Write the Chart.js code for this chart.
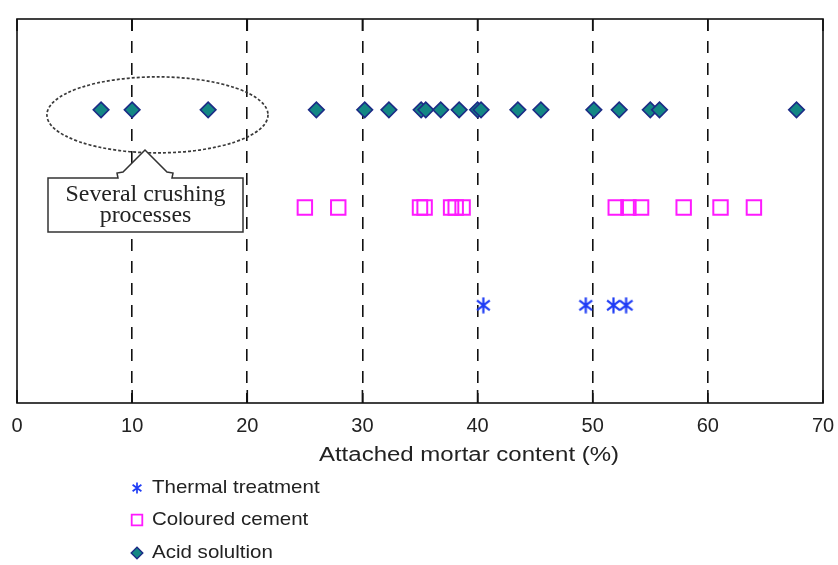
<!DOCTYPE html>
<html>
<head>
<meta charset="utf-8">
<script src="https://cdn.jsdelivr.net/npm/chart.js@4/dist/chart.umd.min.js"></script>
<style>
  html, body { margin: 0; padding: 0; background: #fff; }
  #wrap { width: 838px; height: 565px; position: relative; }
</style>
</head>
<body>
<div id="wrap"><canvas id="c"></canvas></div>
<script>
// Attached mortar content measured after each removal treatment (%)
const xTicks = [0, 10, 20, 30, 40, 50, 60, 70];
const seriesNames = ['Thermal treatment', 'Coloured cement', 'Acid solultion'];
const thermal = [40.5, 49.4, 51.8, 52.9];
const coloured = [25.0, 27.9, 35.0, 35.4, 37.7, 38.1, 38.7, 52.0, 53.1, 54.2, 57.9, 61.1, 64.0];
const acid = [7.3, 10.0, 16.6, 26.0, 30.2, 32.3, 35.1, 35.5, 36.8, 38.4, 40.0, 40.3, 43.5, 45.5, 50.1, 52.3, 55.0, 55.8, 67.7];
const rowLevels = [1, 2, 3];           // one horizontal row per treatment
const xTitle = 'Attached mortar content (%)';
const noteLines = ['Several crushing', 'processes'];

const SANS = "'Liberation Sans', Arial, sans-serif";
const SERIF = "'Liberation Serif', 'Times New Roman', serif";

// asterisk marker (vertical stroke plus a cross)
function asterisk(size, color, lw) {
  const c = document.createElement('canvas');
  c.width = size; c.height = size;
  const g = c.getContext('2d');
  g.strokeStyle = color; g.lineWidth = lw;
  const m = size / 2, r = size / 2 - 0.5;
  g.beginPath();
  g.moveTo(m, m - r); g.lineTo(m, m + r);
  const dx = r * 0.8, dy = r * 0.6;
  g.moveTo(m - dx, m - dy); g.lineTo(m + dx, m + dy);
  g.moveTo(m - dx, m + dy); g.lineTo(m + dx, m - dy);
  g.stroke();
  return c;
}

const pointStyles = [
  { pointStyle: asterisk(17, '#1f3cf5', 2.2), pointRadius: 8, borderColor: '#1f3cf5', backgroundColor: '#1f3cf5', borderWidth: 1 },
  { pointStyle: 'rect', pointRadius: 10.2, borderColor: '#ff1aff', backgroundColor: 'rgba(0,0,0,0)', borderWidth: 2 },
  { pointStyle: 'rectRot', pointRadius: 7.8, borderColor: '#1c2c86', backgroundColor: '#138784', borderWidth: 1.6 }
];
const legendStyles = [
  { pointStyle: asterisk(12, '#1f3cf5', 1.7), radius: 6 },
  { pointStyle: 'rect', radius: 7.5, borderColor: '#ff1aff', backgroundColor: 'rgba(0,0,0,0)', borderWidth: 1.8 },
  { pointStyle: 'rectRot', radius: 5.8, borderColor: '#1c2c86', backgroundColor: '#138784', borderWidth: 1.4 }
];

const seriesData = [thermal, coloured, acid];
const datasets = seriesData.map((vals, i) => Object.assign({
  label: seriesNames[i],
  data: vals.map(v => ({ x: v, y: rowLevels[i] })),
  showLine: false,
  pointHoverRadius: pointStyles[i].pointRadius
}, pointStyles[i]));

const decor = {
  id: 'decor',
  afterDatasetsDraw(chart) {
    const { ctx, chartArea: a } = chart;
    const xs = chart.scales.x, ys = chart.scales.y;

    // dashed ellipse round the low acid-solution results
    const x1 = xs.getPixelForValue(2.6), x2 = xs.getPixelForValue(21.8);
    const ey = ys.getPixelForValue(rowLevels[2]) + 5;
    ctx.save();
    ctx.beginPath();
    ctx.ellipse((x1 + x2) / 2, ey, (x2 - x1) / 2, 38, 0, 0, Math.PI * 2);
    ctx.setLineDash([3, 2]);
    ctx.lineWidth = 1.7;
    ctx.strokeStyle = '#3a3a3a';
    ctx.stroke();
    ctx.restore();

    // callout box with its arrow
    const L = 48, R = 243, T = 178, B = 232;
    const tipX = 145, tipY = 150;
    ctx.save();
    ctx.beginPath();
    ctx.moveTo(L, T);
    ctx.lineTo(tipX - 27, T);
    ctx.lineTo(tipX - 28, T - 5);
    ctx.lineTo(tipX - 22, T - 6);
    ctx.lineTo(tipX, tipY);
    ctx.lineTo(tipX + 22, T - 6);
    ctx.lineTo(tipX + 28, T - 5);
    ctx.lineTo(tipX + 27, T);
    ctx.lineTo(R, T);
    ctx.lineTo(R, B);
    ctx.lineTo(L, B);
    ctx.closePath();
    ctx.fillStyle = '#fff';
    ctx.fill();
    ctx.lineWidth = 1.5;
    ctx.strokeStyle = '#333';
    ctx.stroke();
    ctx.fillStyle = '#222';
    ctx.font = '23px ' + SERIF;
    ctx.textAlign = 'center';
    ctx.textBaseline = 'alphabetic';
    ctx.save();
    ctx.translate((L + R) / 2, 201);
    ctx.scale(1.04, 1);
    ctx.fillText(noteLines[0], 0, 0);
    ctx.fillText(noteLines[1], 0, 21);
    ctx.restore();
    ctx.restore();

    // plot frame and inward tick marks
    ctx.save();
    ctx.strokeStyle = '#111';
    ctx.lineWidth = 1.6;
    ctx.strokeRect(a.left, a.top, a.right - a.left, a.bottom - a.top);
    ctx.beginPath();
    xTicks.forEach(v => {
      const px = xs.getPixelForValue(v);
      ctx.moveTo(px, a.bottom); ctx.lineTo(px, a.bottom - 13);
      ctx.moveTo(px, a.top); ctx.lineTo(px, a.top + 12);
    });
    ctx.stroke();
    ctx.restore();
  },
  afterDraw(chart) {
    const { ctx } = chart;
    // axis title
    ctx.save();
    ctx.fillStyle = '#222';
    ctx.font = '20px ' + SANS;
    ctx.textAlign = 'center';
    ctx.textBaseline = 'middle';
    ctx.translate(469, 455);
    ctx.scale(1.2, 1);
    ctx.fillText(xTitle, 0, 0);
    ctx.restore();

    // legend, one entry per line
    const rowsY = [488, 520, 553];
    ctx.save();
    ctx.font = '19px ' + SANS;
    ctx.textAlign = 'left';
    ctx.textBaseline = 'middle';
    seriesNames.forEach((name, i) => {
      const st = legendStyles[i];
      ctx.save();
      ctx.lineWidth = st.borderWidth || 1;
      ctx.strokeStyle = st.borderColor || '#000';
      ctx.fillStyle = st.backgroundColor || '#000';
      Chart.helpers.drawPoint(ctx, { pointStyle: st.pointStyle, radius: st.radius, rotation: 0, borderWidth: st.borderWidth || 1 }, 137, rowsY[i]);
      ctx.restore();
      ctx.fillStyle = '#222';
      ctx.save();
      ctx.translate(152, rowsY[i]);
      ctx.scale(1.08, 1);
      ctx.fillText(name, 0, 0);
      ctx.restore();
    });
    ctx.restore();
  }
};

new Chart(document.getElementById('c'), {
  type: 'scatter',
  data: { datasets },
  options: {
    responsive: true,
    maintainAspectRatio: false,
    animation: false,
    events: [],
    layout: { padding: { left: 17, right: 15, top: 19, bottom: 100 } },
    plugins: { legend: { display: false }, tooltip: { enabled: false } },
    scales: {
      x: {
        type: 'linear',
        min: 0, max: 70,
        afterBuildTicks: s => { s.ticks = xTicks.map(v => ({ value: v })); },
        afterFit: s => { s.height = 62; s.paddingLeft = 0; s.paddingRight = 0; },
        ticks: { color: '#222', font: { family: SANS, size: 20 }, padding: 11, maxRotation: 0 },
        grid: {
          drawTicks: false,
          lineWidth: 1.6,
          color: c => (c.tick && (c.tick.value === 0 || c.tick.value === 70)) ? 'rgba(0,0,0,0)' : '#111'
        },
        border: { display: false, dash: [12, 10] },
        title: { display: false }
      },
      y: {
        type: 'linear',
        min: 0, max: 3.93,
        display: false
      }
    }
  },
  plugins: [decor]
});
</script>
</body>
</html>
